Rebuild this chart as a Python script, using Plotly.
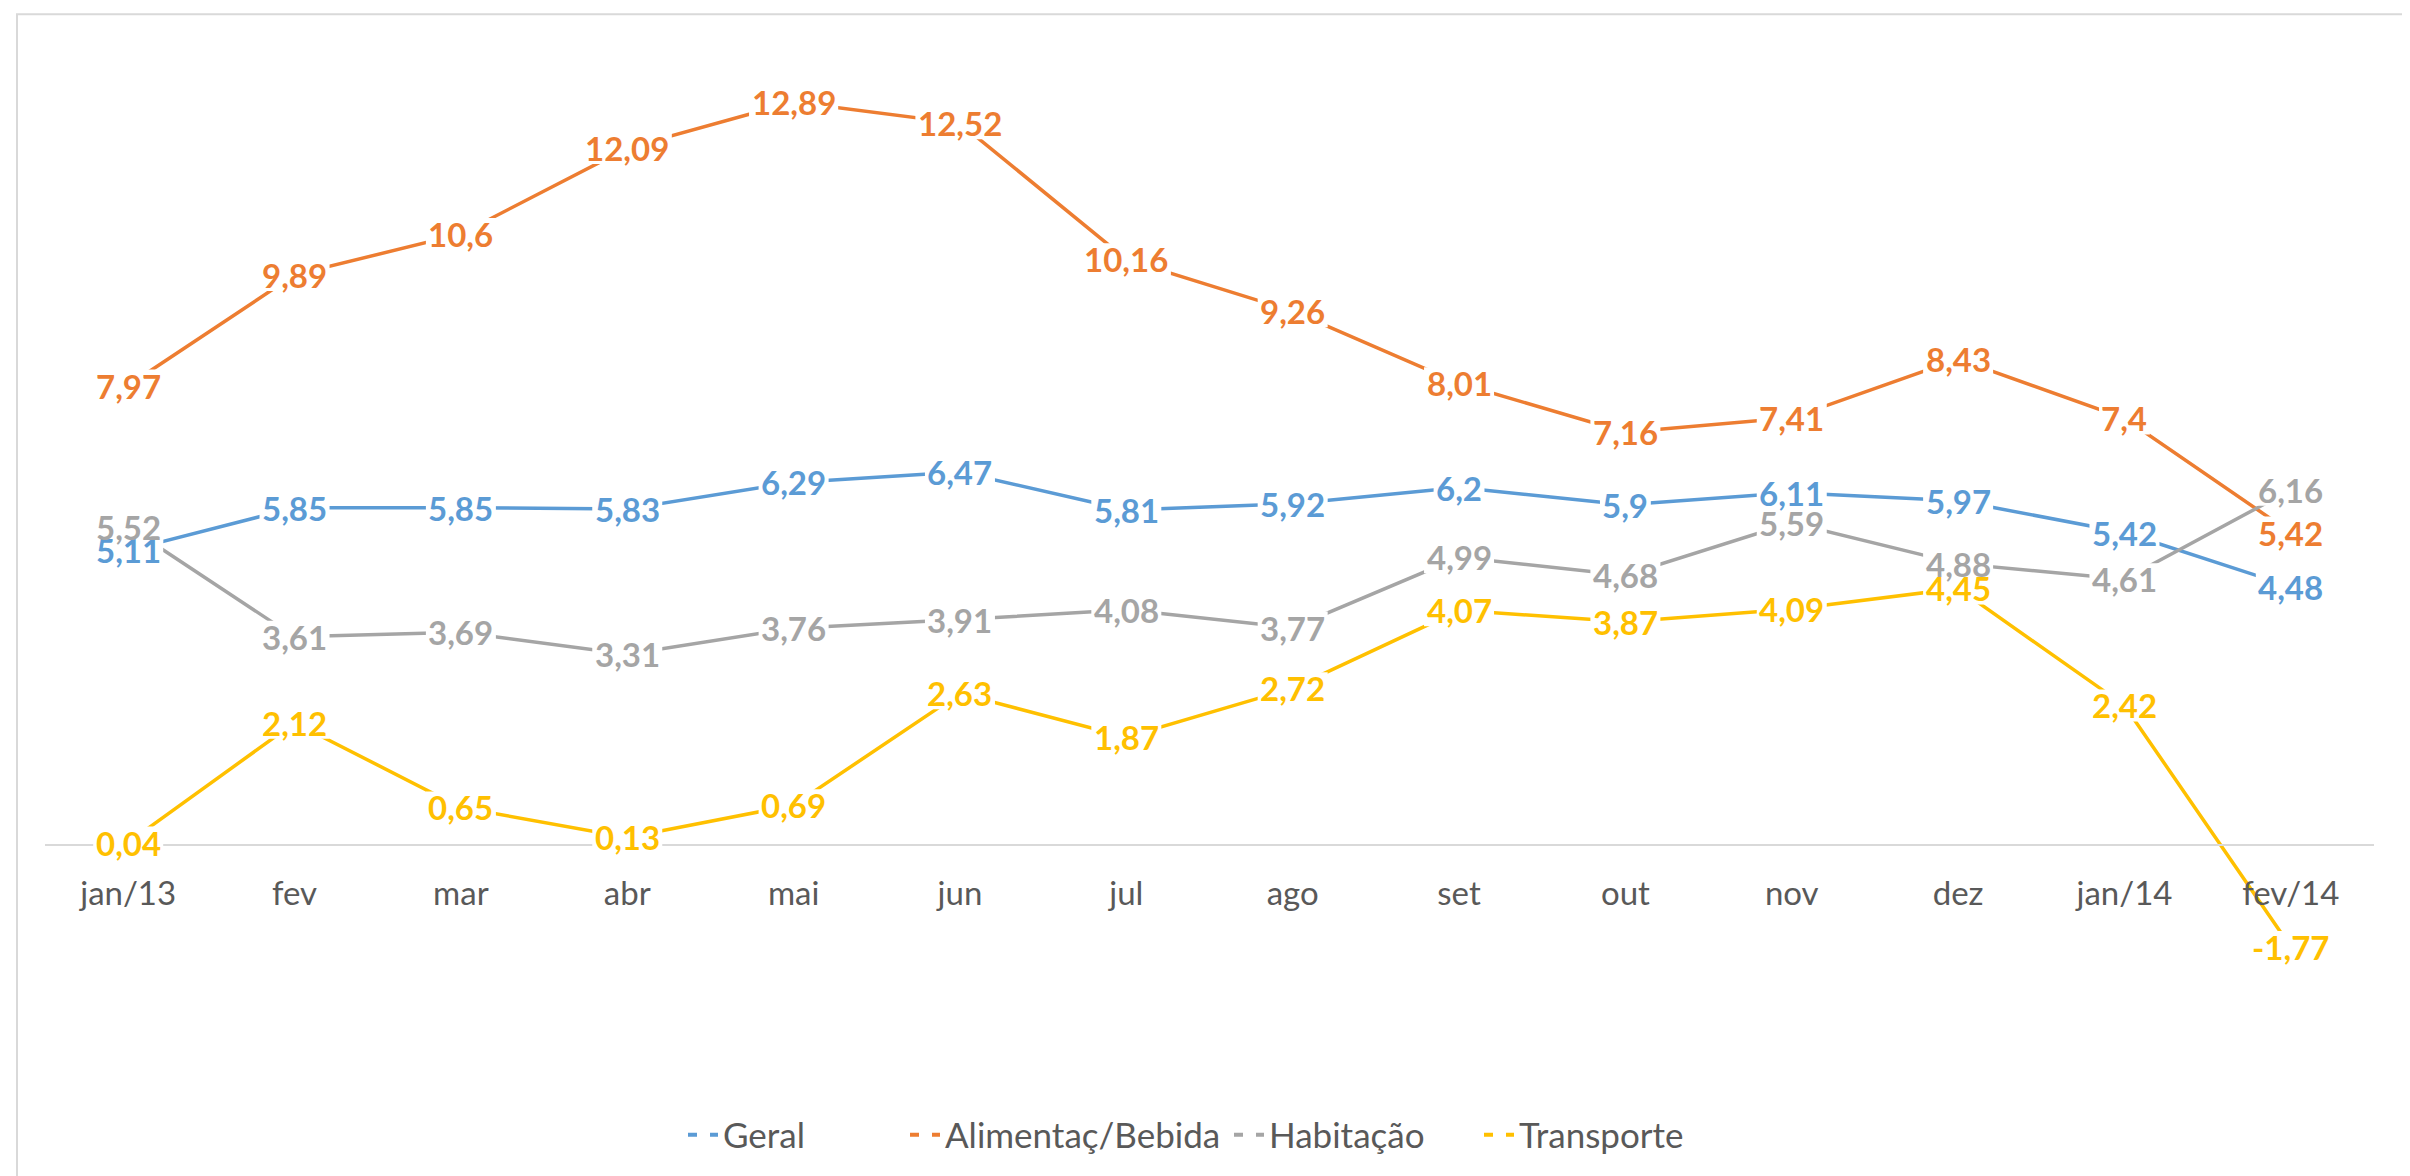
import plotly.graph_objects as go

categories = ["jan/13", "fev", "mar", "abr", "mai", "jun", "jul", "ago", "set", "out", "nov", "dez", "jan/14", "fev/14"]
geral = [5.11, 5.85, 5.85, 5.83, 6.29, 6.47, 5.81, 5.92, 6.2, 5.9, 6.11, 5.97, 5.42, 4.48]
alimentacao = [7.97, 9.89, 10.6, 12.09, 12.89, 12.52, 10.16, 9.26, 8.01, 7.16, 7.41, 8.43, 7.4, 5.42]
habitacao = [5.52, 3.61, 3.69, 3.31, 3.76, 3.91, 4.08, 3.77, 4.99, 4.68, 5.59, 4.88, 4.61, 6.16]
transporte = [0.04, 2.12, 0.65, 0.13, 0.69, 2.63, 1.87, 2.72, 4.07, 3.87, 4.09, 4.45, 2.42, -1.77]
series_names = ["Geral", "Alimentaç/Bebida", "Habitação", "Transporte"]
series_values = [geral, alimentacao, habitacao, transporte]
colors = ["#5B9BD5", "#ED7D31", "#A5A5A5", "#FFC000"]
legend_left_px = [675, 897, 1221, 1471]

W, H = 2410, 1176
ymin, ymax = -2.5, 14
plot_left, plot_right = 37, 2366
plot_top, plot_bottom = 29.8, 981.0
pw = plot_right - plot_left
ph = plot_bottom - plot_top
LABEL_SIZE = 33

def fmt(v):
    return f"{v:g}".replace(".", ",")

def text_width(s):
    w = 0
    for ch in s:
        if ch.isdigit():
            w += 0.58
        elif ch == ",":
            w += 0.26
        else:
            w += 0.40
    return w * LABEL_SIZE

def px_x(p):
    return (p - plot_left) / pw

def px_y(p):
    return (plot_bottom - p) / ph

fig = go.Figure()
masks = []
labels = []
legends = {}
for i, (name, vals, col) in enumerate(zip(series_names, series_values, colors)):
    fig.add_trace(go.Scatter(x=categories, y=vals, mode="lines", name=name,
                             line=dict(color=col, width=3.5), showlegend=False,
                             hoverinfo="skip"))
    for j, (c, v) in enumerate(zip(categories, vals)):
        half_w = text_width(fmt(v)) / 2 + 2
        # white box hiding the line under the label (as in the reference)
        masks.append(dict(type="rect", layer="above", xref="x", yref="y",
                          xsizemode="pixel", ysizemode="pixel", xanchor=j, yanchor=v,
                          x0=-half_w, x1=half_w, y0=-16, y1=16,
                          fillcolor="white", line=dict(width=0)))
        labels.append(dict(x=c, y=v, xref="x", yref="y", text=fmt(v), showarrow=False,
                           font=dict(family="Lato", size=LABEL_SIZE, color=col, weight="bold"),
                           xanchor="center", yanchor="middle"))
for i, (name, col) in enumerate(zip(series_names, colors)):
    lg = "legend" if i == 0 else f"legend{i+1}"
    fig.add_trace(go.Scatter(x=[None], y=[None], mode="lines", name=name, legend=lg,
                             line=dict(color=col, width=4, dash="9px,13px,9px"), showlegend=True))
    legends[lg] = dict(orientation="h", xref="container", x=legend_left_px[i] / W, xanchor="left",
                       yref="container", y=1 - 1127 / H, yanchor="middle",
                       font=dict(family="Lato", size=35, color="#595959"), itemwidth=30,
                       bgcolor="rgba(0,0,0,0)", borderwidth=0)

border = dict(type="rect", xref="paper", yref="paper",
              x0=px_x(9), x1=px_x(2397), y0=px_y(1200), y1=px_y(6),
              line=dict(color="#D9D9D9", width=2), fillcolor="rgba(0,0,0,0)", layer="below")

fig.update_layout(
    width=W, height=H,
    margin=dict(l=plot_left, r=W - plot_right, t=plot_top, b=H - plot_bottom),
    paper_bgcolor="white", plot_bgcolor="white",
    font=dict(family="Lato", color="#595959"),
    xaxis=dict(type="category", anchor="free", position=(0 - ymin) / (ymax - ymin),
               showline=True, linecolor="#D9D9D9", linewidth=2, showgrid=False,
               ticks="outside", ticklen=19, tickcolor="rgba(0,0,0,0)",
               tickfont=dict(family="Lato", size=33, color="#595959"),
               range=[-0.5, len(categories) - 0.5], zeroline=False),
    yaxis=dict(range=[ymin, ymax], visible=False, showgrid=False, zeroline=False),
    annotations=labels,
    shapes=[border] + masks,
    **legends,
)

fig.write_html("out.html")
